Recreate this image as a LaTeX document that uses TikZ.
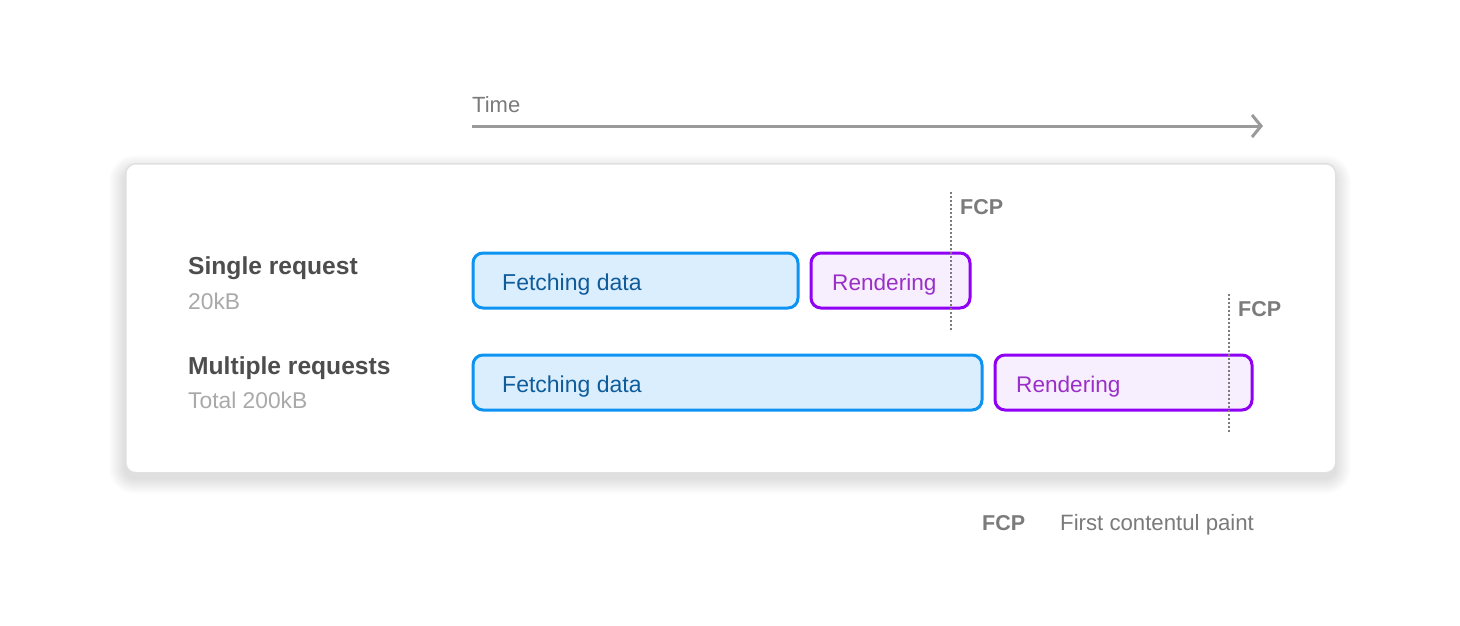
\documentclass[tikz,border=0pt]{standalone}
\usepackage{fontspec}
\setmainfont{Liberation Sans}
\usetikzlibrary{arrows.meta}
\definecolor{axisgray}{HTML}{9A9A9A}
\definecolor{timegray}{HTML}{7A7A7A}
\definecolor{labdark}{HTML}{4D4D4D}
\definecolor{subgray}{HTML}{A9A9A9}
\definecolor{fcpgray}{HTML}{7B7B7B}
\definecolor{cardline}{HTML}{E0E0E0}
\definecolor{fetchline}{HTML}{0D94F3}
\definecolor{fetchfill}{HTML}{DBEEFD}
\definecolor{fetchtext}{HTML}{0F5C9B}
\definecolor{rendline}{HTML}{9000F5}
\definecolor{rendfill}{HTML}{F7EFFE}
\definecolor{rendtext}{HTML}{9A2FC8}
\tikzset{
  fetchbox/.style={draw=fetchline, fill=fetchfill, line width=3pt, rounded corners=10pt},
  rendbox/.style={draw=rendline, fill=rendfill, line width=3pt, rounded corners=10pt},
  boxtext/.style={anchor=base west, inner sep=0pt},
  fetchfont/.style={font=\fontsize{23}{26}\selectfont},
  rendfont/.style={font=\fontsize{22.6}{26}\selectfont},
  mainlab/.style={anchor=base west, inner sep=0pt, text=labdark, font=\fontsize{24.6}{28}\selectfont\bfseries},
  sublab/.style={anchor=base west, inner sep=0pt, text=subgray, font=\fontsize{22.8}{26}\selectfont},
  fcplab/.style={anchor=base west, inner sep=0pt, text=fcpgray, font=\fontsize{21.5}{24}\selectfont\bfseries},
  fcpline/.style={draw=fcpgray, line width=1.5pt, dash pattern=on 2pt off 2pt},
}
\begin{document}
\begin{tikzpicture}[x=1pt,y=-1pt]
\useasboundingbox[fill=white] (0,0) rectangle (1460,626);
% time axis
\node[anchor=base west, inner sep=0pt, text=timegray, font=\fontsize{22}{24}\selectfont] (time) at (472,112) {Time};
\coordinate (axs) at (472,126);
\coordinate (axe) at (1263,126);
\draw[axisgray, line width=3pt, -{Straight Barb[length=9pt,width=22pt,line width=3pt]}] (axs) -- (axe);
% soft shadow of the card
\foreach \i in {1,...,16}{
  \fill[black, opacity=0.009, rounded corners=10pt+\i pt]
    (125-\i,163-\i+8) rectangle (1335+\i,472+\i+6);
}
% card
\node[draw=cardline, line width=1.5pt, fill=white, rounded corners=10pt,
  minimum width=1210pt, minimum height=309pt, anchor=north west, inner sep=0pt]
  (card) at (125,163) {};
% labels
\node[mainlab] (single) at (188,274) {Single request};
\node[sublab] (s20) at (188,309) {20kB};
\node[mainlab] (multi) at (188,374) {Multiple requests};
\node[sublab] (s200) at (188,408) {Total 200kB};
% row 1 boxes
\draw[fetchbox] (473,253) rectangle (798,308);
\node[boxtext, fetchfont, text=fetchtext] (f1) at (502,290) {Fetching data};
\draw[rendbox] (811,253) rectangle (970,308);
\node[boxtext, rendfont, text=rendtext] (r1) at (832,290) {Rendering};
% row 2 boxes
\draw[fetchbox] (473,355) rectangle (982,410);
\node[boxtext, fetchfont, text=fetchtext] (f2) at (502,392) {Fetching data};
\draw[rendbox] (995,355) rectangle (1252,410);
\node[boxtext, rendfont, text=rendtext] (r2) at (1016,392) {Rendering};
% FCP markers
\coordinate (d1a) at (951,192);
\coordinate (d1b) at (951,331);
\draw[fcpline] (d1a) -- (d1b);
\node[fcplab] (fcp1) at (960,214) {FCP};
\coordinate (d2a) at (1229,294);
\coordinate (d2b) at (1229,433);
\draw[fcpline] (d2a) -- (d2b);
\node[fcplab] (fcp2) at (1238,316) {FCP};
% legend
\node[fcplab] (lgk) at (982,530) {FCP};
\node[anchor=base west, inner sep=0pt, text=timegray, font=\fontsize{22.2}{24}\selectfont] (lgv) at (1060,530) {First contentul paint};
\end{tikzpicture}
\end{document}
